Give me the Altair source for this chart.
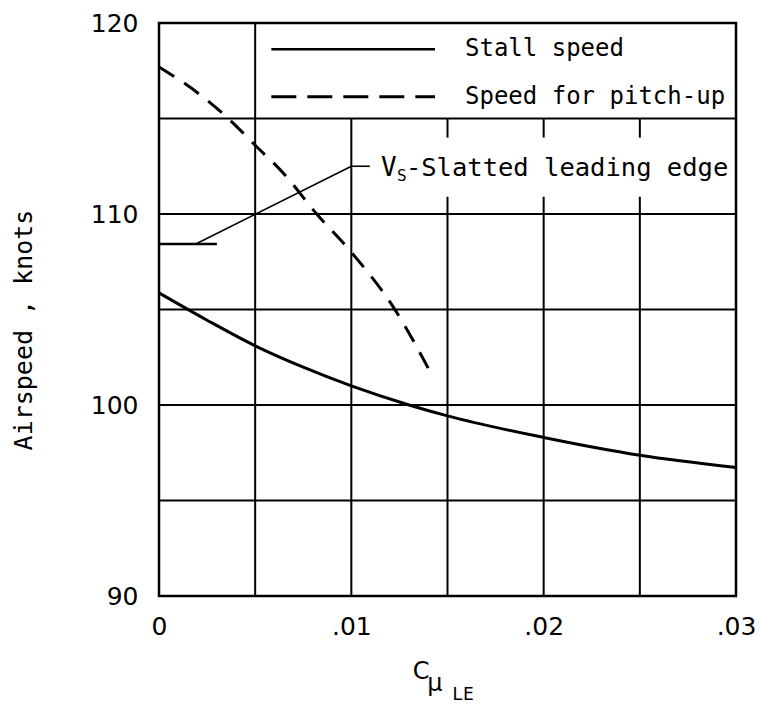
import altair as alt
import pandas as pd

# Stall speed versus leading-edge blowing coefficient
stall_x = [0, 0.0025, 0.005, 0.0075, 0.01, 0.013, 0.015, 0.02, 0.025, 0.03]
stall_y = [105.87, 104.44, 103.1, 101.98, 101.0, 100.0, 99.43, 98.3, 97.37, 96.73]

# Speed for pitch-up
pitch_x = [0, 0.002, 0.0036, 0.005, 0.0065, 0.0082, 0.01, 0.0122, 0.01425]
pitch_y = [117.7, 116.35, 115.0, 113.6, 112.1, 110.0, 108.0, 105.1, 101.45]

# Stall speed with slatted leading edge (marker at C_mu = 0)
slat_x = [0, 0.00301]
slat_y = 108.43

x_ticks = [0, 0.01, 0.02, 0.03]
x_tick_labels = ["0", ".01", ".02", ".03"]
y_ticks = [90, 100, 110, 120]

legend_labels = ["Stall speed", "Speed for pitch-up"]
legend_y = [118.62, 116.14]

W, H = 577, 573
MONO = "DejaVu Sans Mono"
SANS = "DejaVu Sans"

xs = alt.Scale(domain=[0, 0.03], nice=False, zero=False)
ys = alt.Scale(domain=[90, 120], nice=False, zero=False)

label_expr = "[" + ",".join(f"'{t}'" for t in x_tick_labels) + "][round(datum.value*100)]"

x_axis = alt.Axis(values=x_ticks, labelExpr=label_expr, grid=False, ticks=False,
                  domain=False, labelFont=SANS, labelFontSize=25, labelColor="black",
                  labelPadding=18, labelFlush=False, title=None)
y_axis = alt.Axis(values=y_ticks, grid=False, ticks=False, domain=False,
                  labelFont=SANS, labelFontSize=25, labelColor="black",
                  labelPadding=21, labelFlush=False, title=None)

# Grid: full horizontal lines, vertical lines stopping under the legend box
# and broken around the slatted-edge label.
grid_rows = []
for v in [95, 100, 105, 110, 115]:
    grid_rows.append({"x1": 0, "x2": 0.03, "y1": v, "y2": v})
grid_rows.append({"x1": 0.005, "x2": 0.005, "y1": 90, "y2": 120})
grid_rows.append({"x1": 0.01, "x2": 0.01, "y1": 90, "y2": 115})
for v in [0.015, 0.02, 0.025]:
    grid_rows.append({"x1": v, "x2": v, "y1": 90, "y2": 110.9})
    grid_rows.append({"x1": v, "x2": v, "y1": 114.0, "y2": 115})
grid_df = pd.DataFrame(grid_rows)

grid = alt.Chart(grid_df).mark_rule(color="black", strokeWidth=2).encode(
    x=alt.X("x1:Q", scale=xs, axis=x_axis),
    x2="x2:Q",
    y=alt.Y("y1:Q", scale=ys, axis=y_axis),
    y2="y2:Q",
)

stall_df = pd.DataFrame({"x": stall_x, "y": stall_y})
stall = alt.Chart(stall_df).mark_line(
    color="black", strokeWidth=3, interpolate="monotone"
).encode(x=alt.X("x:Q", scale=xs), y=alt.Y("y:Q", scale=ys))

pitch_df = pd.DataFrame({"x": pitch_x, "y": pitch_y})
pitch = alt.Chart(pitch_df).mark_line(
    color="black", strokeWidth=3, strokeDash=[18, 12], interpolate="monotone"
).encode(x=alt.X("x:Q", scale=xs), y=alt.Y("y:Q", scale=ys))

# Slatted-edge stall speed marker and its leader
slat_df = pd.DataFrame({"x1": [slat_x[0]], "x2": [slat_x[1]], "y1": [slat_y], "y2": [slat_y]})
slat = alt.Chart(slat_df).mark_rule(color="black", strokeWidth=2.5).encode(
    x=alt.X("x1:Q", scale=xs), x2="x2:Q", y=alt.Y("y1:Q", scale=ys), y2="y2:Q"
)
leader_df = pd.DataFrame({
    "x1": [0.00191, 0.01],
    "y1": [slat_y, 112.5],
    "x2": [0.01, 0.01096],
    "y2": [112.5, 112.5],
})
leader = alt.Chart(leader_df).mark_rule(color="black", strokeWidth=1.6).encode(
    x=alt.X("x1:Q", scale=xs), x2="x2:Q", y=alt.Y("y1:Q", scale=ys), y2="y2:Q"
)

# Legend box contents
leg_lines_df = pd.DataFrame({
    "x1": [0.00584, 0.00584], "x2": [0.01435, 0.01435], "y": legend_y,
})
leg_solid = alt.Chart(leg_lines_df.iloc[[0]]).mark_rule(color="black", strokeWidth=2.5).encode(
    x=alt.X("x1:Q", scale=xs), x2="x2:Q", y=alt.Y("y:Q", scale=ys)
)
leg_dash = alt.Chart(leg_lines_df.iloc[[1]]).mark_rule(
    color="black", strokeWidth=3, strokeDash=[25, 11]
).encode(x=alt.X("x1:Q", scale=xs), x2="x2:Q", y=alt.Y("y:Q", scale=ys))

leg_text_df = pd.DataFrame({"x": [0.01591, 0.01591], "y": legend_y, "label": legend_labels})
leg_text = alt.Chart(leg_text_df).mark_text(
    font=MONO, fontSize=24, align="left", baseline="middle", color="black"
).encode(x=alt.X("x:Q", scale=xs), y=alt.Y("y:Q", scale=ys), text="label:N")

# "V_S - Slatted leading edge" label
vs_df = pd.DataFrame({"x": [0.011536], "y": [112.4]})
vs_base = alt.Chart(vs_df).encode(x=alt.X("x:Q", scale=xs), y=alt.Y("y:Q", scale=ys))
vs_v = vs_base.mark_text(font=MONO, fontSize=26, align="left", baseline="middle",
                         color="black", text="V")
vs_s = vs_base.mark_text(font=MONO, fontSize=16, align="left", baseline="middle",
                         color="black", text="S", dx=16, dy=8)
vs_rest = vs_base.mark_text(font=MONO, fontSize=25.5, align="left", baseline="middle",
                            color="black", text="-Slatted leading edge", dx=25)

# Axis titles
y_title = alt.Chart(vs_df).mark_text(
    font=MONO, fontSize=25, angle=270, align="center", baseline="middle",
    color="black", text="Airspeed , knots"
).encode(x=alt.value(-135), y=alt.value(307))

xt_c = alt.Chart(vs_df).mark_text(
    font=SANS, fontSize=24, align="center", baseline="middle", color="black", text="C"
).encode(x=alt.value(262), y=alt.value(649))
xt_mu = alt.Chart(vs_df).mark_text(
    font=SANS, fontSize=24, align="center", baseline="middle", color="black", text="μ"
).encode(x=alt.value(276), y=alt.value(661))
xt_le = alt.Chart(vs_df).mark_text(
    font=MONO, fontSize=18, align="center", baseline="middle", color="black", text="LE"
).encode(x=alt.value(304), y=alt.value(672))

chart = alt.layer(
    grid, stall, pitch, slat, leader, leg_solid, leg_dash, leg_text,
    vs_v, vs_s, vs_rest, y_title, xt_c, xt_mu, xt_le,
).properties(
    width=W, height=H,
    padding={"left": 159, "top": 23, "right": 23, "bottom": 121},
    autosize="none",
    background="white",
).configure_view(stroke="black", strokeWidth=2.5)

chart.save("out.html", embed_options={"renderer": "svg", "actions": False})
